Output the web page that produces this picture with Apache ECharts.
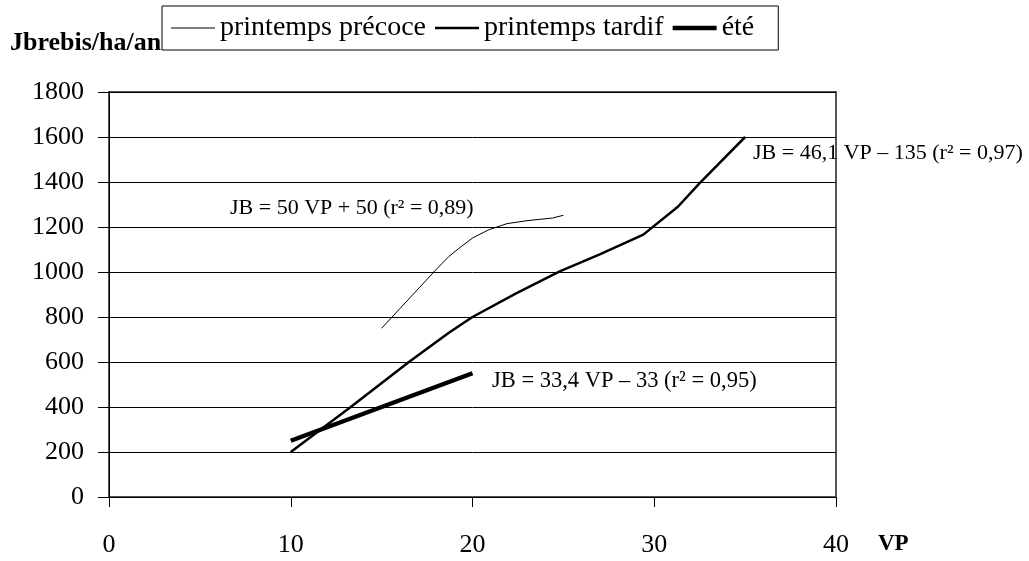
<!DOCTYPE html>
<html>
<head>
<meta charset="utf-8">
<script src="https://cdn.jsdelivr.net/npm/echarts@6/dist/echarts.min.js"></script>
<style>
   html, body { margin: 0; padding: 0; background: #ffffff; }
   #chart { width: 1029px; height: 561px; }
</style>
</head>
<body>
<div id="chart"></div>
<script>

// printemps précoce (thin line)
const vpPrecoce = [15, 16, 17, 18, 18.7, 19.3, 20, 20.9, 21.9, 23, 24.4, 25];
const jbPrecoce = [750, 837, 924, 1011, 1069, 1108, 1151, 1188, 1215, 1228, 1240, 1252];

// printemps tardif (medium line)
const vpTardif = [10, 13.3, 16.5, 18.7, 20, 22.4, 24.8, 27, 29.4, 31.3, 32.5, 35];
const jbTardif = [200, 400, 600, 730, 800, 905, 1003, 1078, 1166, 1290, 1395, 1600];

// été (thick line)
const vpEte = [10, 20];
const jbEte = [250, 550];

const seriesNames = ['printemps précoce', 'printemps tardif', 'été'];
const lineWidths = [1, 2.5, 4.5];
const equations = [
   'JB = 50 VP + 50 (r² = 0,89)',
   'JB = 46,1 VP – 135 (r² = 0,97)',
   'JB = 33,4 VP – 33 (r² = 0,95)'
];

const serif = 'Liberation Serif';

function pairs(xs, ys)
{
   const out = [];
   for (let i = 0; i < xs.length; i++) out.push([xs[i], ys[i]]);
   return out;
}

const chart = echarts.init(document.getElementById('chart'));

function lineSeries(name, data, width)
{
   return {
      name: name,
      type: 'line',
      data: data,
      symbol: 'none',
      smooth: false,
      lineStyle: { color: '#000', width: width },
      itemStyle: { color: '#000' },
      z: 3
   };
}

// legend icons: flat bars, thickness as the line
const legendData = seriesNames.map((n, i) => (
{
   name: n,
   icon: 'path://M0,0H44V' + lineWidths[i] + 'H0Z',
   itemStyle: { color: '#000', borderWidth: 0 }
}));

chart.setOption(
{
   animation: false,
   backgroundColor: '#fff',
   textStyle: { fontFamily: serif, color: '#000' },
   grid:
   {
      left: 109, right: 193, top: 92, bottom: 64,
      show: true, borderColor: '#555', borderWidth: 2,
      containLabel: false
   },
   legend:
   {
      data: legendData,
      left: 162, top: 6,
      padding: [8, 24, 8, 9],
      itemGap: 9,
      itemWidth: 44,
      itemHeight: 14,
      borderColor: '#000',
      borderWidth: 1,
      borderRadius: 0,
      textStyle: { fontFamily: serif, fontSize: 28, color: '#000', padding: [0, 0, 0, 0] }
   },
   xAxis:
   {
      type: 'value',
      min: 0, max: 40, interval: 10,
      axisLine: { show: true, lineStyle: { color: '#000', width: 1 } },
      axisTick: { show: true, length: 10, lineStyle: { color: '#000' } },
      axisLabel: { margin: 35, fontFamily: serif, fontSize: 26, color: '#000' },
      splitLine: { show: false }
   },
   yAxis:
   {
      type: 'value',
      min: 0, max: 1800, interval: 200,
      axisLine: { show: true, lineStyle: { color: '#000', width: 1 } },
      axisTick: { show: true, length: 11, lineStyle: { color: '#000' } },
      axisLabel:
      {
         margin: 25, fontFamily: serif, fontSize: 26, color: '#000',
         formatter: (v) => String(v)
      },
      splitLine: { show: true, lineStyle: { color: '#000', width: 1 } }
   },
   series:
   [
      lineSeries(seriesNames[0], pairs(vpPrecoce, jbPrecoce), lineWidths[0]),
      lineSeries(seriesNames[1], pairs(vpTardif, jbTardif), lineWidths[1]),
      lineSeries(seriesNames[2], pairs(vpEte, jbEte), lineWidths[2])
   ],
   graphic:
   [
      {
         type: 'text', left: 10, top: 30,
         style: { text: 'Jbrebis/ha/an', font: 'bold 26px "Liberation Serif"', fill: '#000' }
      },
      {
         type: 'text', left: 878, top: 533,
         style: { text: 'VP', font: 'bold 23px "Liberation Serif"', fill: '#000' }
      },
      {
         type: 'text', left: 230, top: 197,
         style: { text: equations[0], font: '22px "Liberation Serif"', fill: '#000' }
      },
      {
         type: 'text', left: 753, top: 142,
         style: { text: equations[1], font: '22px "Liberation Serif"', fill: '#000' }
      },
      {
         type: 'text', left: 492, top: 370,
         style: { text: equations[2], font: '22.5px "Liberation Serif"', fill: '#000' }
      }
   ]
});

</script>
</body>
</html>
